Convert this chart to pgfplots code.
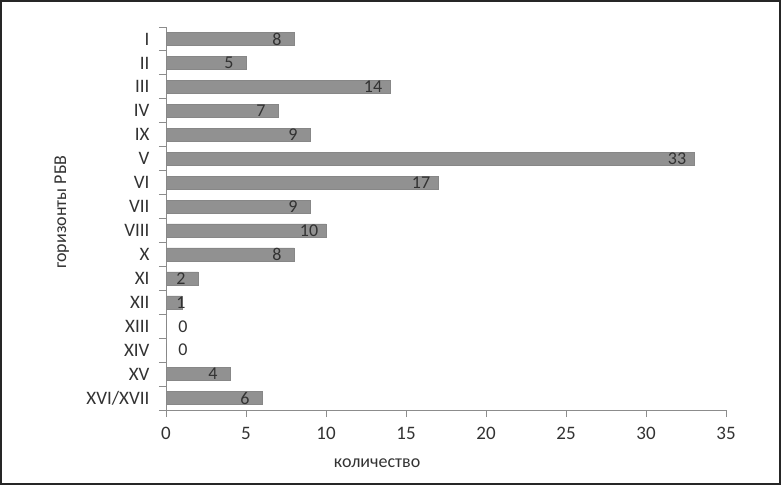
\documentclass[border=0pt]{standalone}
\usepackage{pgfplots}
\pgfplotsset{compat=1.18}
\usepackage{fontspec}
\setmainfont{Carlito}
\definecolor{barfill}{RGB}{145,145,145}
\definecolor{barline}{RGB}{135,135,135}
\definecolor{axisgray}{RGB}{140,140,140}
\definecolor{txt}{RGB}{50,50,50}
\begin{document}
\begin{tikzpicture}
\draw[line width=1.6pt, black!85] (0.8pt,0.8pt) rectangle (780.2pt,484.2pt);
\begin{axis}[
    at={(166pt,75pt)}, anchor=south west,
    scale only axis,
    width=560pt, height=383pt,
    xbar, bar width=13pt,
    xmin=0, xmax=35,
    ymin=-0.5, ymax=15.5,
    y dir=reverse,
    axis x line*=bottom, axis y line*=left,
    axis line style={draw=axisgray, line width=1pt},
    xtick={0,5,...,35},
    ytick={-0.5,0.5,...,15.5},
    y tick label as interval,
    yticklabels={I,II,III,IV,IX,V,VI,VII,VIII,X,XI,XII,XIII,XIV,XV,XVI/XVII},
    tick align=outside,
    major tick length=7pt,
    tick style={color=axisgray, line width=1pt, major tick length=7pt},
    /pgf/number format/assume math mode=true,
    ticklabel style={font=\fontsize{19}{22}\selectfont, text=txt},
    yticklabel style={xshift=-6pt},
    xticklabel style={yshift=-7pt},
    xlabel={количество},
    ylabel={горизонты РБВ},
    label style={font=\fontsize{18}{22}\selectfont, text=txt},
    xlabel style={at={(axis description cs:0.377,-0.138)}, anchor=center},
    ylabel style={at={(axis description cs:-0.186,0.517)}, anchor=center},
    nodes near coords,
    visualization depends on={rawx \as \rv},
    every node near coord/.append style={anchor=center, text=txt,
        font=\fontsize{18}{22}\selectfont,
        xshift={ifthenelse(\rv<0.5,17,ifthenelse(\rv<1.5,-1,-17))}},
]
\addplot[fill=barfill, draw=barline, line width=0.5pt] coordinates {
(8,0) (5,1) (14,2) (7,3) (9,4) (33,5) (17,6) (9,7)
(10,8) (8,9) (2,10) (1,11) (0,12) (0,13) (4,14) (6,15)};
\end{axis}
\end{tikzpicture}
\end{document}
